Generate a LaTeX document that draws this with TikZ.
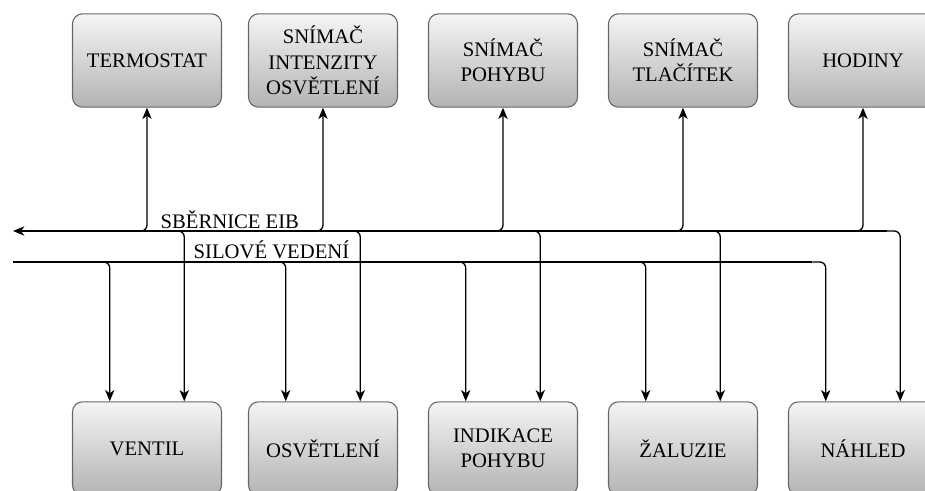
\documentclass[tikz,border=0pt]{standalone}
\usepackage{fontspec}
\setmainfont{Liberation Serif}
\usetikzlibrary{arrows.meta}
\definecolor{boxtop}{HTML}{F5F5F5}
\definecolor{boxbot}{HTML}{B3B3B3}
\definecolor{boxline}{HTML}{666666}
\begin{document}
\begin{tikzpicture}[x=0.75pt,y=-0.75pt,>={Stealth[length=8.5pt,width=7pt,inset=2.5pt]}, line width=1pt, line join=round,
	prvek/.style={draw=boxline,line width=0.8pt,rounded corners=7.5pt,top color=boxtop,bottom color=boxbot,minimum width=111.75pt,minimum height=70pt,align=center,font=\fontsize{15.5}{19}\selectfont},
	popis/.style={anchor=base west,inner sep=0pt,font=\fontsize{15.5}{19}\selectfont},
	spoj/.style={->,rounded corners=4.5pt}]
	\def\yeib{231} \def\ysil{262} % sběrnice
	\def\yh{60.5} \def\yd{448.5} \def\q{27.94pt}
	\useasboundingbox (0,0) rectangle (925,490);
	% horní prvky
	\node[prvek] (termostat) at (147,\yh) {TERMOSTAT};
	\node[prvek] (snimacint) at (323,\yh) {SNÍMAČ\\INTENZITY\\OSVĚTLENÍ};
	\node[prvek] (snimacpoh) at (503,\yh) {SNÍMAČ\\POHYBU};
	\node[prvek] (snimactl) at (683,\yh) {SNÍMAČ\\TLAČÍTEK};
	\node[prvek] (hodiny) at (863,\yh) {HODINY};
	% dolní prvky
	\node[prvek] (ventil) at (147,\yd) {VENTIL};
	\node[prvek] (osvetleni) at (323,\yd) {OSVĚTLENÍ};
	\node[prvek] (indikace) at (503,\yd) {INDIKACE\\POHYBU};
	\node[prvek] (zaluzie) at (683,\yd) {ŽALUZIE};
	\node[prvek] (nahled) at (863,\yd) {NÁHLED};
	% sběrnice
	\coordinate (eib) at (0,\yeib);
	\coordinate (sil) at (0,\ysil);
	\coordinate (eibW) at (13,\yeib);
	\coordinate (silW) at (13,\ysil);
	\draw[->] ([xshift=18pt]nahled.north |- eib) -- (eibW);
	\draw (silW) -- ([xshift=-37.94pt]nahled.north |- sil);
	\node[popis] (eibtext) at (160,228) {SBĚRNICE EIB};
	\node[popis] (siltext) at (193,258) {SILOVÉ VEDENÍ};
	\foreach \t/\d in {termostat/ventil,snimacint/osvetleni,snimacpoh/indikace,snimactl/zaluzie,hodiny/nahled}{
		\draw[spoj] ([xshift=-10pt]\t.south |- eib) -| (\t.south);
		\draw[spoj] ([xshift=-37.94pt]\d.north |- sil) -| ([xshift=-\q]\d.north);
		\draw[spoj] ([xshift=18pt]\d.north |- eib) -| ([xshift=\q]\d.north);
	}
\end{tikzpicture}
\end{document}
